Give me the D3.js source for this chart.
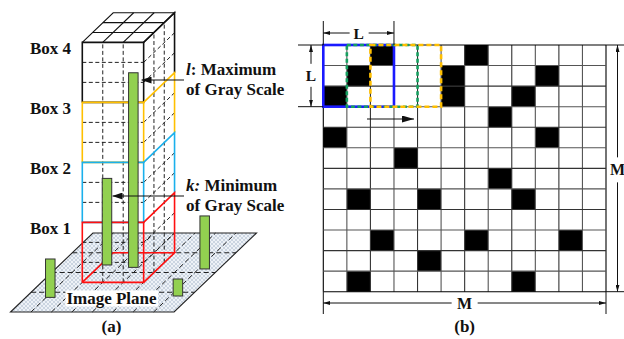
<!DOCTYPE html>
<html>
<head>
<meta charset="utf-8">
<script src="https://cdn.jsdelivr.net/npm/d3@7/dist/d3.min.js"></script>
<style>
  html, body { margin: 0; padding: 0; background: #fff; }
  svg { display: block; }
  text { font-family: "Liberation Serif", "Times New Roman", serif; font-weight: bold; fill: #111; }
</style>
</head>
<body>
<svg id="chart" width="624" height="339"></svg>
<script>
// ---------- (a) gray-level boxes over the image plane ----------
const planeCols = 8;            // plane grid, columns along the front edge
const planeRows = 4;            // plane grid, rows in depth
const boxSpanU = [2, 5];        // box footprint on the plane grid
const boxSpanV = [1.5, 3];
const boxLabels = ["Box 1", "Box 2", "Box 3", "Box 4"];
const boxLevels = [[0, 3], [3, 6], [6, 9], [9, 12]];   // gray-level range of each box
const maxLevel = 12;
// pixel columns standing on the plane: grid position and gray level
const barU = [1.20, 2.32, 3.73, 7.30, 7.37];
const barV = [0.74, 2.38, 2.26, 2.18, 0.81];
const barLevel = [1.92, 4.33, 9.73, 2.65, 0.85];

// ---------- (b) binary image with sliding L x L window ----------
const M = 12;
const L = 3;
const windowStarts = [0, 1, 2];
const blackCells = [ // [row, col]
  [0, 2], [0, 6],
  [1, 1], [1, 5], [1, 9],
  [2, 0], [2, 5], [2, 8],
  [3, 7],
  [4, 0], [4, 9],
  [5, 3],
  [6, 7],
  [7, 1], [7, 4], [7, 8],
  [9, 2], [9, 6], [9, 10],
  [10, 4],
  [11, 1], [11, 8]
];

const svg = d3.select("#chart");
const defs = svg.append("defs");

// arrowheads
function marker(id, w, h) {
  defs.append("marker").attr("id", id)
    .attr("viewBox", `0 0 ${w} ${h}`).attr("refX", w).attr("refY", h / 2)
    .attr("markerWidth", w).attr("markerHeight", h).attr("markerUnits", "userSpaceOnUse")
    .attr("orient", "auto-start-reverse")
    .append("path").attr("d", `M0,0L${w},${h / 2}L0,${h}Z`).attr("fill", "#111");
}
marker("arrA", 10, 7);
marker("arrS", 7, 4);
marker("arrM", 12, 7);

// plane hatch
const pat = defs.append("pattern").attr("id", "hatch")
  .attr("width", 4).attr("height", 4).attr("patternUnits", "userSpaceOnUse");
pat.append("rect").attr("width", 4).attr("height", 4).attr("fill", "#eef2f7");
pat.append("path").attr("d", "M0,0L4,4M4,0L0,4").attr("stroke", "#b4c1d1").attr("stroke-width", 0.6);

// oblique projection: u along the front edge, v into depth, z = gray level
const uX = d3.scaleLinear().domain([0, planeCols]).range([10.5, 10.5 + planeCols * 20.45]);
const vX = d3.scaleLinear().domain([0, planeRows]).range([0, planeRows * 20.6]);
const vY = d3.scaleLinear().domain([0, planeRows]).range([312, 312 - planeRows * 19.75]);
const zH = d3.scaleLinear().domain([0, maxLevel]).range([0, 240]);
const P = (u, v, z = 0) => [uX(u) + vX(v), vY(v) - zH(z)];
const lineGen = d3.line();

const ga = svg.append("g");

// image plane
ga.append("path")
  .attr("d", lineGen([P(0, 0), P(planeCols, 0), P(planeCols, planeRows), P(0, planeRows)]) + "Z")
  .attr("fill", "url(#hatch)").attr("stroke", "#222").attr("stroke-width", 1.1);
const planeGrid = [];
for (let r = 1; r < planeRows; r++) planeGrid.push([P(0, r), P(planeCols, r)]);
for (let c = 1; c < planeCols; c++) planeGrid.push([P(c, 0), P(c, planeRows)]);
ga.selectAll("path.pg").data(planeGrid).join("path").attr("class", "pg")
  .attr("d", lineGen).attr("stroke", "#222").attr("stroke-width", 1)
  .attr("stroke-dasharray", "5,3").attr("fill", "none");

// box wireframe: dashed interior grid
const [u0, u1] = boxSpanU, [v0, v1] = boxSpanV;
const dashed = [];
for (let u = u0 + 1; u < u1; u++) dashed.push([P(u, v0, 0), P(u, v0, maxLevel)]);
const vStep = (v1 - v0) / 3;
for (let k = 1; k < 3; k++) {
  const v = v0 + k * vStep;
  dashed.push([P(u1, v, 0), P(u1, v, maxLevel)]);
}
for (let z = 1; z < maxLevel; z++) {
  if (z % 3 === 0) continue;
  dashed.push([P(u0, v0, z), P(u1, v0, z)]);
  dashed.push([P(u1, v0, z), P(u1, v1, z)]);
}
ga.selectAll("path.bd").data(dashed).join("path").attr("class", "bd")
  .attr("d", lineGen).attr("stroke", "#222").attr("stroke-width", 1)
  .attr("stroke-dasharray", "4,2.5").attr("fill", "none");

// top face grid
const topFace = [];
for (let u = u0 + 1; u < u1; u++) topFace.push([P(u, v0, maxLevel), P(u, v1, maxLevel)]);
for (let k = 1; k < 3; k++) { const v = v0 + k * vStep; topFace.push([P(u0, v, maxLevel), P(u1, v, maxLevel)]); }
topFace.push([P(u0, v0, maxLevel), P(u0, v1, maxLevel), P(u1, v1, maxLevel), P(u1, v0, maxLevel)]);
ga.selectAll("path.tf").data(topFace).join("path").attr("class", "tf")
  .attr("d", lineGen).attr("stroke", "#111").attr("stroke-width", 1.1).attr("fill", "none");

// boxes, drawn from the top one down so each lower box's top edge stays visible
const boxColor = ["#ff1010", "#1ab0ec", "#ffc000", "#111"];
for (let i = boxLevels.length - 1; i >= 0; i--) {
  const [lo, hi] = boxLevels[i];
  const edges = [
    [P(u0, v0, lo), P(u0, v0, hi), P(u1, v0, hi), P(u1, v0, lo), P(u0, v0, lo)],
    [P(u1, v0, hi), P(u1, v1, hi), P(u1, v1, lo)]
  ];
  if (lo === 0) {
    edges.push([P(u1, v0, 0), P(u1, v1, 0), P(u0, v1, 0), P(u0, v0, 0)]);
  }
  ga.append("g").selectAll("path").data(edges).join("path")
    .attr("d", lineGen).attr("stroke", boxColor[i]).attr("stroke-width", 1.6)
    .attr("fill", "none").attr("stroke-linejoin", "miter");
  ga.append("text").attr("x", 30).attr("y", P(u0, v0, hi)[1] + 12)
    .attr("font-size", 17).text(boxLabels[i]);
}

// pixel columns
const barW = 0.465;
ga.selectAll("rect.bar").data(barU.map((u, i) => ({ u, v: barV[i], z: barLevel[i] })))
  .join("rect").attr("class", "bar")
  .attr("x", d => P(d.u - barW / 2, d.v)[0])
  .attr("width", uX(barW) - uX(0))
  .attr("y", d => P(d.u, d.v, d.z)[1])
  .attr("height", d => zH(d.z))
  .attr("fill", "#92d050").attr("stroke", "#333").attr("stroke-width", 1);

// annotations for l and k
function callout(x1, x2, yy, tag, l1, l2) {
  ga.append("line").attr("x1", x1).attr("x2", x2).attr("y1", yy).attr("y2", yy)
    .attr("stroke", "#111").attr("stroke-width", 1.1).attr("marker-end", "url(#arrA)");
  const t = ga.append("text").attr("x", 186).attr("y", yy - 5).attr("font-size", 17);
  t.append("tspan").attr("font-style", "italic").text(tag);
  t.append("tspan").text(l1);
  ga.append("text").attr("x", 186).attr("y", yy + 14.5).attr("font-size", 17).text(l2);
}
callout(184, 141.5, 80, "l", ": Maximum", "of Gray Scale");
callout(184, 112.5, 196, "k:", " Minimum", "of Gray Scale");

// plane caption on a white patch
const ip = ga.append("text").attr("x", 111.5).attr("y", 303.5).attr("font-size", 17)
  .attr("text-anchor", "middle").text("Image Plane");
const ib = ip.node().getBBox();
ga.insert("rect", () => ip.node()).attr("x", ib.x - 1).attr("y", ib.y + 2)
  .attr("width", ib.width + 2).attr("height", ib.height - 3).attr("fill", "#fff");

ga.append("text").attr("x", 111.5).attr("y", 332).attr("font-size", 17)
  .attr("text-anchor", "middle").text("(a)");

// ---------- (b) ----------
const gb = svg.append("g");
const xs = d3.scaleLinear().domain([0, M]).range([323.3, 606]);
const ys = d3.scaleLinear().domain([0, M]).range([45, 291.7]);

gb.selectAll("rect.cell").data(blackCells).join("rect").attr("class", "cell")
  .attr("x", d => xs(d[1])).attr("y", d => ys(d[0]))
  .attr("width", xs(1) - xs(0)).attr("height", ys(1) - ys(0)).attr("fill", "#000");

const ticks = d3.range(0, M + 1);
gb.selectAll("line.gv").data(ticks).join("line").attr("class", "gv")
  .attr("x1", d => xs(d)).attr("x2", d => xs(d)).attr("y1", ys(0)).attr("y2", ys(M))
  .attr("stroke", (d, i) => (d === 0 || d === M) ? "#000" : (i % 2 ? "#555" : "#333"))
  .attr("stroke-width", 1.1);
gb.selectAll("line.gh").data(ticks).join("line").attr("class", "gh")
  .attr("y1", d => ys(d)).attr("y2", d => ys(d)).attr("x1", xs(0)).attr("x2", xs(M))
  .attr("stroke", (d, i) => (d === 0 || d === M) ? "#000" : (i % 2 ? "#555" : "#333"))
  .attr("stroke-width", 1.1);

// sliding windows
const winStyle = [
  { c: "#1a1aff", dash: null },
  { c: "#16a060", dash: "4,2.5" },
  { c: "#ffbf00", dash: "5,3" }
];
gb.selectAll("rect.win").data(windowStarts).join("rect").attr("class", "win")
  .attr("x", d => xs(d)).attr("y", ys(0))
  .attr("width", xs(L) - xs(0)).attr("height", ys(L) - ys(0))
  .attr("fill", "none")
  .attr("stroke", (d, i) => winStyle[i].c)
  .attr("stroke-width", 2.6)
  .attr("stroke-dasharray", (d, i) => winStyle[i].dash);

// sliding direction
gb.append("line").attr("x1", 367).attr("x2", 414).attr("y1", 119).attr("y2", 119)
  .attr("stroke", "#111").attr("stroke-width", 1.1).attr("marker-end", "url(#arrM)");

// dimension lines
function seg(x1, y1, x2, y2) {
  gb.append("line").attr("x1", x1).attr("y1", y1).attr("x2", x2).attr("y2", y2)
    .attr("stroke", "#111").attr("stroke-width", 1);
}
function arrowSeg(x1, y1, x2, y2) {
  gb.append("line").attr("x1", x1).attr("y1", y1).attr("x2", x2).attr("y2", y2)
    .attr("stroke", "#111").attr("stroke-width", 1).attr("marker-end", "url(#arrS)");
}
function dimLabel(tx, ty, s, size) {
  gb.append("text").attr("x", tx).attr("y", ty).attr("font-size", size)
    .attr("text-anchor", "middle").text(s);
}
// L across the top
seg(xs(0), 21, xs(0), ys(0)); seg(xs(L), 21, xs(L), ys(0));
arrowSeg(xs(L / 2) - 9, 33, xs(0), 33); arrowSeg(xs(L / 2) + 10, 33, xs(L), 33);
dimLabel(xs(L / 2), 38.5, "L", 15.5);
// L down the left
seg(298, ys(0), xs(0), ys(0)); seg(298, ys(L), xs(0), ys(L));
arrowSeg(311, ys(L / 2) - 12, 311, ys(0)); arrowSeg(311, ys(L / 2) + 11, 311, ys(L));
dimLabel(311, ys(L / 2) + 5.5, "L", 15.5);
// M down the right
seg(xs(M), ys(0), 624, ys(0)); seg(xs(M), ys(M), 624, ys(M));
arrowSeg(617.5, ys(M / 2) - 11, 617.5, ys(0)); arrowSeg(617.5, ys(M / 2) + 14, 617.5, ys(M));
dimLabel(617.5, ys(M / 2) + 7, "M", 16);
// M along the bottom
seg(xs(0), ys(M), xs(0), 314); seg(xs(M), ys(M), xs(M), 314);
arrowSeg(xs(M / 2) - 13, 303, xs(0), 303); arrowSeg(xs(M / 2) + 13, 303, xs(M), 303);
dimLabel(xs(M / 2), 308.5, "M", 16);

dimLabel(xs(M / 2), 332, "(b)", 17);
</script>
</body>
</html>
